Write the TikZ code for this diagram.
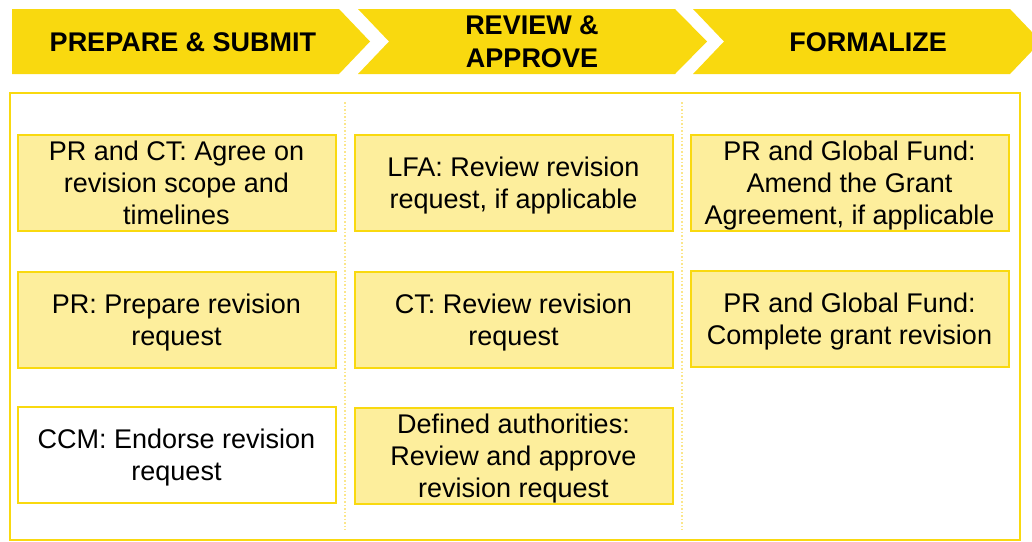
\documentclass[tikz,border=0pt]{standalone}
\usepackage{fontspec}
\setmainfont{Liberation Sans}
\usepackage{xcolor}
\definecolor{gfyellow}{HTML}{F9D90F}
\definecolor{gflight}{HTML}{FDEE9C}
\definecolor{gfdots}{HTML}{FBE68A}
\tikzset{stepbox/.style={draw=gfyellow, line width=2pt, fill=gflight,
   minimum width=318pt, minimum height=96pt, inner sep=0pt},
 plainbox/.style={stepbox, fill=white},
 steptext/.style={align=center, inner sep=0pt, font=\fontsize{27}{32}\selectfont},
 phase/.style={fill=gfyellow, draw=none},
 phasetext/.style={align=center, font=\fontsize{27}{33}\selectfont\bfseries},
 }

\begin{document}
\begin{tikzpicture}[x=1pt, y=-1pt]
        \useasboundingbox (0, 0) rectangle (1032, 541);
        \begin{scope}
        \clip (0, 0) rectangle (1032, 541);
        % phase arrows
        \fill[phase] (12, 9) -- (339, 9) -- (370, 41.5) -- (339, 74) -- (12, 74) -- cycle;
        \fill[phase] (358, 9) -- (675, 9) -- (707, 41.5) -- (675, 74) -- (358, 74) -- (389, 41.5) -- cycle;
        \fill[phase] (693, 9) -- (1010, 9) -- (1041, 41.5) -- (1010, 74) -- (693, 74) -- (724, 41.5) -- cycle;
        \end{scope}
        \node[phasetext] (hprep) at (183, 42) {PREPARE \& SUBMIT};
        \node[phasetext] (hrev) at (532, 42) {REVIEW \&\\APPROVE};
        \node[phasetext] (hform) at (868, 42) {FORMALIZE};
        % frame and column separators
        \draw[gfyellow, line width=2pt] (10, 93) rectangle (1020, 540);
        \draw[gfdots, line width=1.5pt, dotted] (345, 102) -- (345, 530);
        \draw[gfdots, line width=1.5pt, dotted] (682, 102) -- (682, 530);
        % prepare & submit
        \node[stepbox] (prep1) at (176.5, 182.5) {};
        \node[steptext] (prep1txt) at (176.5, 183) {PR and CT: Agree on\\revision scope and\\timelines};
        \node[stepbox] (prep2) at (176.5, 319.5) {};
        \node[steptext] (prep2txt) at (176.5, 322.5) {PR: Prepare revision\\request};
        \node[plainbox] (prep3) at (176.5, 455) {};
        \node[steptext] (prep3txt) at (176.5, 458) {CCM: Endorse revision\\request};
        % review & approve
        \node[stepbox] (rev1) at (513.5, 182.5) {};
        \node[steptext] (rev1txt) at (513.5, 185.5) {LFA: Review revision\\request, if applicable};
        \node[stepbox] (rev2) at (513.5, 319.5) {};
        \node[steptext] (rev2txt) at (513.5, 322.5) {CT: Review revision\\request};
        \node[stepbox] (rev3) at (513.5, 456) {};
        \node[steptext] (rev3txt) at (513.5, 458.5) {Defined authorities:\\Review and approve\\revision request};
        % formalize
        \node[stepbox] (form1) at (849.5, 182.5) {};
        \node[steptext] (form1txt) at (849.5, 186) {PR and Global Fund:\\Amend the Grant\\Agreement, if applicable};
        \node[stepbox] (form2) at (849.5, 318.5) {};
        \node[steptext] (form2txt) at (849.5, 321.5) {PR and Global Fund:\\Complete grant revision};
    \end{tikzpicture}
\end{document}
